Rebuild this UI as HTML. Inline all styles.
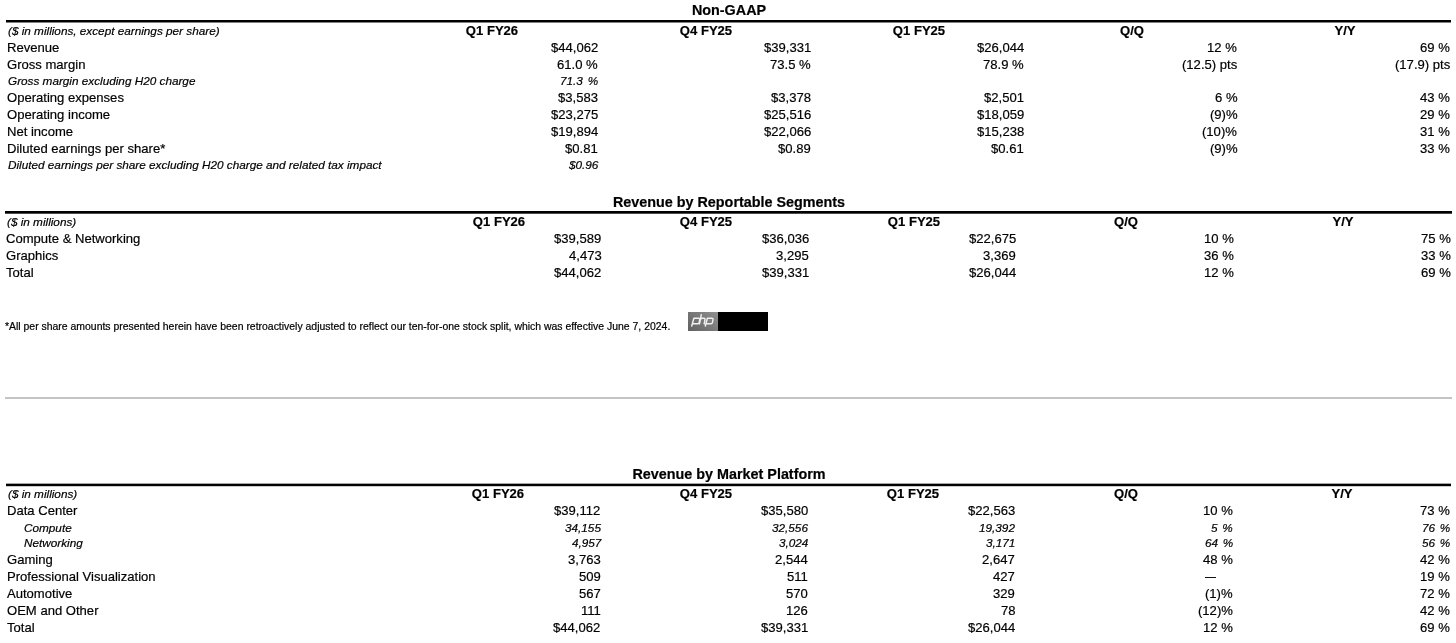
<!DOCTYPE html>
<html><head><meta charset="utf-8"><title>NVIDIA Q1 FY26</title>
<style>
html,body{margin:0;padding:0;background:#fff;}
body{width:1456px;height:643px;position:relative;overflow:hidden;font-family:"Liberation Sans",sans-serif;color:#000;}
.t{position:absolute;white-space:nowrap;line-height:normal;will-change:transform;-webkit-text-stroke:0.2px #000;}
.r{position:absolute;}
</style></head><body>
<div class="t" style="top:2.00px;font-size:14.37px;font-weight:bold;left:528.60px;width:400px;text-align:center;">Non-GAAP</div>
<div class="t" style="top:24.00px;font-size:11.76px;font-style:italic;left:8.00px;">($ in millions, except earnings per share)</div>
<div class="t" style="top:23.00px;font-size:13.07px;font-weight:bold;left:292.20px;width:400px;text-align:center;">Q1 FY26</div>
<div class="t" style="top:23.00px;font-size:13.07px;font-weight:bold;left:505.60px;width:400px;text-align:center;">Q4 FY25</div>
<div class="t" style="top:23.00px;font-size:13.07px;font-weight:bold;left:719.00px;width:400px;text-align:center;">Q1 FY25</div>
<div class="t" style="top:23.00px;font-size:13.07px;font-weight:bold;left:932.20px;width:400px;text-align:center;">Q/Q</div>
<div class="t" style="top:23.00px;font-size:13.07px;font-weight:bold;left:1144.70px;width:400px;text-align:center;">Y/Y</div>
<div class="t" style="top:40.00px;font-size:13.07px;left:7.00px;">Revenue</div>
<div class="t" style="top:40.00px;font-size:13.07px;right:857.90px;">$44,062</div>
<div class="t" style="top:40.00px;font-size:13.07px;right:644.90px;">$39,331</div>
<div class="t" style="top:40.00px;font-size:13.07px;right:431.90px;">$26,044</div>
<div class="t" style="top:40.00px;font-size:13.07px;right:218.90px;">12 %</div>
<div class="t" style="top:40.00px;font-size:13.07px;right:5.90px;">69 %</div>
<div class="t" style="top:57.00px;font-size:13.07px;left:7.00px;">Gross margin</div>
<div class="t" style="top:57.00px;font-size:13.07px;right:857.90px;">61.0 %</div>
<div class="t" style="top:57.00px;font-size:13.07px;right:644.90px;">73.5 %</div>
<div class="t" style="top:57.00px;font-size:13.07px;right:431.90px;">78.9 %</div>
<div class="t" style="top:57.00px;font-size:13.07px;right:218.90px;">(12.5) pts</div>
<div class="t" style="top:57.00px;font-size:13.07px;right:5.90px;">(17.9) pts</div>
<div class="t" style="top:74.00px;font-size:11.76px;font-style:italic;left:8.00px;">Gross margin excluding H20 charge</div>
<div class="t" style="top:74.00px;font-size:11.76px;font-style:italic;right:857.60px;word-spacing:1.5px;">71.3 %</div>
<div class="t" style="top:90.00px;font-size:13.07px;left:7.00px;">Operating expenses</div>
<div class="t" style="top:90.00px;font-size:13.07px;right:857.90px;">$3,583</div>
<div class="t" style="top:90.00px;font-size:13.07px;right:644.90px;">$3,378</div>
<div class="t" style="top:90.00px;font-size:13.07px;right:431.90px;">$2,501</div>
<div class="t" style="top:90.00px;font-size:13.07px;right:218.90px;">6 %</div>
<div class="t" style="top:90.00px;font-size:13.07px;right:5.90px;">43 %</div>
<div class="t" style="top:107.00px;font-size:13.07px;left:7.00px;">Operating income</div>
<div class="t" style="top:107.00px;font-size:13.07px;right:857.90px;">$23,275</div>
<div class="t" style="top:107.00px;font-size:13.07px;right:644.90px;">$25,516</div>
<div class="t" style="top:107.00px;font-size:13.07px;right:431.90px;">$18,059</div>
<div class="t" style="top:107.00px;font-size:13.07px;right:218.90px;">(9)%</div>
<div class="t" style="top:107.00px;font-size:13.07px;right:5.90px;">29 %</div>
<div class="t" style="top:124.00px;font-size:13.07px;left:7.00px;">Net income</div>
<div class="t" style="top:124.00px;font-size:13.07px;right:857.90px;">$19,894</div>
<div class="t" style="top:124.00px;font-size:13.07px;right:644.90px;">$22,066</div>
<div class="t" style="top:124.00px;font-size:13.07px;right:431.90px;">$15,238</div>
<div class="t" style="top:124.00px;font-size:13.07px;right:218.90px;">(10)%</div>
<div class="t" style="top:124.00px;font-size:13.07px;right:5.90px;">31 %</div>
<div class="t" style="top:141.00px;font-size:13.07px;left:7.00px;">Diluted earnings per share*</div>
<div class="t" style="top:141.00px;font-size:13.07px;right:857.90px;">$0.81</div>
<div class="t" style="top:141.00px;font-size:13.07px;right:644.90px;">$0.89</div>
<div class="t" style="top:141.00px;font-size:13.07px;right:431.90px;">$0.61</div>
<div class="t" style="top:141.00px;font-size:13.07px;right:218.90px;">(9)%</div>
<div class="t" style="top:141.00px;font-size:13.07px;right:5.90px;">33 %</div>
<div class="t" style="top:158.00px;font-size:11.76px;font-style:italic;left:8.00px;">Diluted earnings per share excluding H20 charge and related tax impact</div>
<div class="t" style="top:158.00px;font-size:11.76px;font-style:italic;right:857.60px;word-spacing:1.5px;">$0.96</div>
<div class="t" style="top:194.30px;font-size:14.37px;font-weight:bold;left:528.60px;width:400px;text-align:center;">Revenue by Reportable Segments</div>
<div class="t" style="top:215.40px;font-size:11.76px;font-style:italic;left:7.00px;">($ in millions)</div>
<div class="t" style="top:214.40px;font-size:13.07px;font-weight:bold;left:299.40px;width:400px;text-align:center;">Q1 FY26</div>
<div class="t" style="top:214.40px;font-size:13.07px;font-weight:bold;left:506.40px;width:400px;text-align:center;">Q4 FY25</div>
<div class="t" style="top:214.40px;font-size:13.07px;font-weight:bold;left:713.70px;width:400px;text-align:center;">Q1 FY25</div>
<div class="t" style="top:214.40px;font-size:13.07px;font-weight:bold;left:926.20px;width:400px;text-align:center;">Q/Q</div>
<div class="t" style="top:214.40px;font-size:13.07px;font-weight:bold;left:1143.40px;width:400px;text-align:center;">Y/Y</div>
<div class="t" style="top:231.30px;font-size:13.07px;left:6.00px;">Compute &amp; Networking</div>
<div class="t" style="top:231.30px;font-size:13.07px;right:854.70px;">$39,589</div>
<div class="t" style="top:231.30px;font-size:13.07px;right:647.00px;">$36,036</div>
<div class="t" style="top:231.30px;font-size:13.07px;right:439.90px;">$22,675</div>
<div class="t" style="top:231.30px;font-size:13.07px;right:222.60px;">10 %</div>
<div class="t" style="top:231.30px;font-size:13.07px;right:5.40px;">75 %</div>
<div class="t" style="top:248.00px;font-size:13.07px;left:6.00px;">Graphics</div>
<div class="t" style="top:248.00px;font-size:13.07px;right:854.70px;">4,473</div>
<div class="t" style="top:248.00px;font-size:13.07px;right:647.00px;">3,295</div>
<div class="t" style="top:248.00px;font-size:13.07px;right:439.90px;">3,369</div>
<div class="t" style="top:248.00px;font-size:13.07px;right:222.60px;">36 %</div>
<div class="t" style="top:248.00px;font-size:13.07px;right:5.40px;">33 %</div>
<div class="t" style="top:264.50px;font-size:13.07px;left:6.00px;">Total</div>
<div class="t" style="top:264.50px;font-size:13.07px;right:854.70px;">$44,062</div>
<div class="t" style="top:264.50px;font-size:13.07px;right:647.00px;">$39,331</div>
<div class="t" style="top:264.50px;font-size:13.07px;right:439.90px;">$26,044</div>
<div class="t" style="top:264.50px;font-size:13.07px;right:222.60px;">12 %</div>
<div class="t" style="top:264.50px;font-size:13.07px;right:5.40px;">69 %</div>
<div class="t" style="top:321.00px;font-size:10.45px;left:5.40px;">*All per share amounts presented herein have been retroactively adjusted to reflect our ten-for-one stock split, which was effective June 7, 2024.</div>
<div class="r" style="left:688px;top:312px;width:30px;height:19px;background:linear-gradient(180deg,rgba(255,255,255,0.06),rgba(0,0,0,0.10)),linear-gradient(90deg,#6c6c6c,#8a8a8a)"></div>
<div class="r" style="left:718px;top:312px;width:50px;height:19px;background:#000"></div>
<svg class="r" style="left:688px;top:312px" width="30" height="19" viewBox="0 0 30 19"><g fill="none" stroke="#f0f0f0" stroke-width="1.45" stroke-linecap="round" stroke-linejoin="round">
<path d="M3.7 14.0 L5.9 6.2 L10.6 6.2 Q11.9 6.2 11.7 7.5 L11.2 10.4 Q10.9 11.7 9.7 11.7 L5.1 11.7"/>
<path d="M11.5 11.9 L13.3 2.6 M12.4 7.3 Q13.2 6.2 14.5 6.2 L16.0 6.2 Q17.2 6.2 17.0 7.4 L16.2 11.9"/>
<path d="M17.3 14.0 L19.4 6.2 L23.9 6.2 Q25.2 6.2 25.0 7.5 L24.5 10.4 Q24.2 11.7 23.0 11.7 L18.5 11.7"/>
</g></svg>
<div class="r" style="left:5px;top:397px;width:1447px;height:2px;background:#c4c4c4"></div>
<div class="t" style="top:466.20px;font-size:14.37px;font-weight:bold;left:528.80px;width:400px;text-align:center;">Revenue by Market Platform</div>
<div class="t" style="top:487.20px;font-size:11.76px;font-style:italic;left:8.00px;">($ in millions)</div>
<div class="t" style="top:486.20px;font-size:13.07px;font-weight:bold;left:298.40px;width:400px;text-align:center;">Q1 FY26</div>
<div class="t" style="top:486.20px;font-size:13.07px;font-weight:bold;left:505.60px;width:400px;text-align:center;">Q4 FY25</div>
<div class="t" style="top:486.20px;font-size:13.07px;font-weight:bold;left:712.50px;width:400px;text-align:center;">Q1 FY25</div>
<div class="t" style="top:486.20px;font-size:13.07px;font-weight:bold;left:925.60px;width:400px;text-align:center;">Q/Q</div>
<div class="t" style="top:486.20px;font-size:13.07px;font-weight:bold;left:1142.30px;width:400px;text-align:center;">Y/Y</div>
<div class="t" style="top:503.40px;font-size:13.07px;left:7.00px;">Data Center</div>
<div class="t" style="top:503.40px;font-size:13.07px;right:855.30px;">$39,112</div>
<div class="t" style="top:503.40px;font-size:13.07px;right:648.00px;">$35,580</div>
<div class="t" style="top:503.40px;font-size:13.07px;right:440.90px;">$22,563</div>
<div class="t" style="top:503.40px;font-size:13.07px;right:223.40px;">10 %</div>
<div class="t" style="top:503.40px;font-size:13.07px;right:5.90px;">73 %</div>
<div class="t" style="top:520.50px;font-size:11.76px;font-style:italic;left:24.30px;">Compute</div>
<div class="t" style="top:520.50px;font-size:11.76px;font-style:italic;right:855.00px;word-spacing:1.5px;">34,155</div>
<div class="t" style="top:520.50px;font-size:11.76px;font-style:italic;right:647.70px;word-spacing:1.5px;">32,556</div>
<div class="t" style="top:520.50px;font-size:11.76px;font-style:italic;right:440.60px;word-spacing:1.5px;">19,392</div>
<div class="t" style="top:520.50px;font-size:11.76px;font-style:italic;right:223.10px;word-spacing:1.5px;">5 %</div>
<div class="t" style="top:520.50px;font-size:11.76px;font-style:italic;right:5.60px;word-spacing:1.5px;">76 %</div>
<div class="t" style="top:535.80px;font-size:11.76px;font-style:italic;left:24.30px;">Networking</div>
<div class="t" style="top:535.80px;font-size:11.76px;font-style:italic;right:855.00px;word-spacing:1.5px;">4,957</div>
<div class="t" style="top:535.80px;font-size:11.76px;font-style:italic;right:647.70px;word-spacing:1.5px;">3,024</div>
<div class="t" style="top:535.80px;font-size:11.76px;font-style:italic;right:440.60px;word-spacing:1.5px;">3,171</div>
<div class="t" style="top:535.80px;font-size:11.76px;font-style:italic;right:223.10px;word-spacing:1.5px;">64 %</div>
<div class="t" style="top:535.80px;font-size:11.76px;font-style:italic;right:5.60px;word-spacing:1.5px;">56 %</div>
<div class="t" style="top:551.60px;font-size:13.07px;left:7.00px;">Gaming</div>
<div class="t" style="top:551.60px;font-size:13.07px;right:855.30px;">3,763</div>
<div class="t" style="top:551.60px;font-size:13.07px;right:648.00px;">2,544</div>
<div class="t" style="top:551.60px;font-size:13.07px;right:440.90px;">2,647</div>
<div class="t" style="top:551.60px;font-size:13.07px;right:223.40px;">48 %</div>
<div class="t" style="top:551.60px;font-size:13.07px;right:5.90px;">42 %</div>
<div class="t" style="top:568.70px;font-size:13.07px;left:7.00px;">Professional Visualization</div>
<div class="t" style="top:568.70px;font-size:13.07px;right:855.30px;">509</div>
<div class="t" style="top:568.70px;font-size:13.07px;right:648.00px;">511</div>
<div class="t" style="top:568.70px;font-size:13.07px;right:440.90px;">427</div>
<div class="t" style="top:568.70px;font-size:13.07px;right:5.90px;">19 %</div>
<div class="t" style="top:586.00px;font-size:13.07px;left:7.00px;">Automotive</div>
<div class="t" style="top:586.00px;font-size:13.07px;right:855.30px;">567</div>
<div class="t" style="top:586.00px;font-size:13.07px;right:648.00px;">570</div>
<div class="t" style="top:586.00px;font-size:13.07px;right:440.90px;">329</div>
<div class="t" style="top:586.00px;font-size:13.07px;right:223.40px;">(1)%</div>
<div class="t" style="top:586.00px;font-size:13.07px;right:5.90px;">72 %</div>
<div class="t" style="top:602.50px;font-size:13.07px;left:7.00px;">OEM and Other</div>
<div class="t" style="top:602.50px;font-size:13.07px;right:855.30px;">111</div>
<div class="t" style="top:602.50px;font-size:13.07px;right:648.00px;">126</div>
<div class="t" style="top:602.50px;font-size:13.07px;right:440.90px;">78</div>
<div class="t" style="top:602.50px;font-size:13.07px;right:223.40px;">(12)%</div>
<div class="t" style="top:602.50px;font-size:13.07px;right:5.90px;">42 %</div>
<div class="t" style="top:620.00px;font-size:13.07px;left:7.00px;">Total</div>
<div class="t" style="top:620.00px;font-size:13.07px;right:855.30px;">$44,062</div>
<div class="t" style="top:620.00px;font-size:13.07px;right:648.00px;">$39,331</div>
<div class="t" style="top:620.00px;font-size:13.07px;right:440.90px;">$26,044</div>
<div class="t" style="top:620.00px;font-size:13.07px;right:223.40px;">12 %</div>
<div class="t" style="top:620.00px;font-size:13.07px;right:5.90px;">69 %</div>
<div class="r" style="left:1205px;top:577px;width:11px;height:1px;background:#111"></div>
<svg class="r" style="left:0;top:0" width="1456" height="643"><rect x="6" y="20.0" width="1445" height="2.5" fill="#000"/><rect x="5" y="211.0" width="1447" height="2.7" fill="#000"/><rect x="6" y="483.65" width="1445" height="2.55" fill="#000"/></svg>
</body></html>
